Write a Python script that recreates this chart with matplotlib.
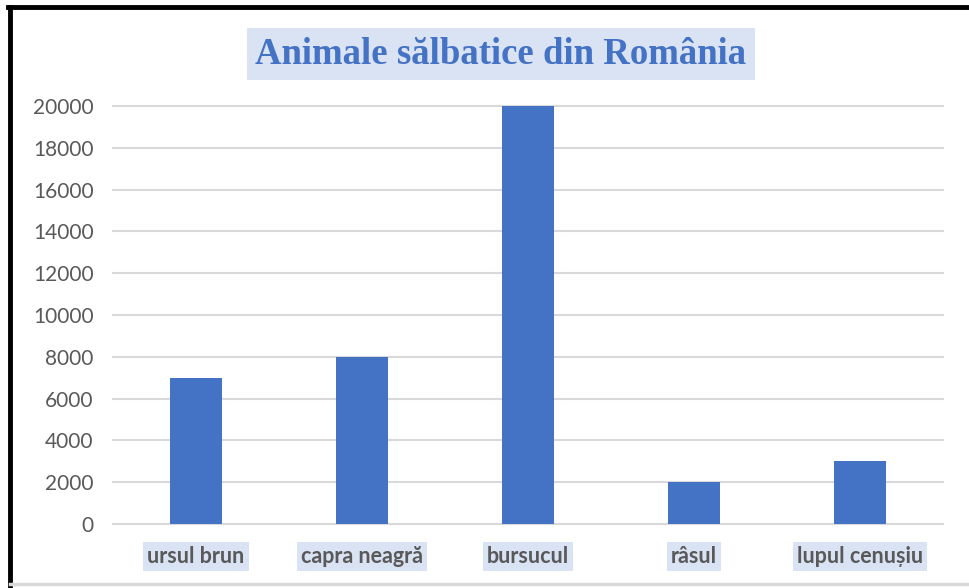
import matplotlib
matplotlib.use('Agg')
import matplotlib.pyplot as plt
from matplotlib.lines import Line2D

# data
animale = ['ursul brun', 'capra neagră', 'bursucul', 'râsul', 'lupul cenușiu']
numar = [7000, 8000, 20000, 2000, 3000]
y_ticks = [0, 2000, 4000, 6000, 8000, 10000, 12000, 14000, 16000, 18000, 20000]

blue = '#4472C4'
grid_grey = '#D9D9D9'
text_grey = '#595959'
label_bg = '#DAE3F3'

fig = plt.figure(figsize=(9.69, 5.88), dpi=100)
ax = fig.add_axes([113 / 969, 1 - 524 / 588, 830 / 969, 418 / 588])

x = range(len(animale))
ax.bar(x, numar, width=0.31, color=blue, zorder=3)

ax.set_xlim(-0.5, len(animale) - 0.5)
ax.set_ylim(0, 20000)
ax.set_yticks(y_ticks)
ax.set_yticklabels([str(v) for v in y_ticks], fontsize=15, color=text_grey, family='Lato')
ax.tick_params(axis='y', length=0, pad=14)
ax.tick_params(axis='x', length=0, pad=16)
ax.set_xticks(list(x))
ax.set_xticklabels(animale, fontsize=15.5, fontweight='bold', color=text_grey, family='Lato')
for lbl in ax.get_xticklabels():
    lbl.set_bbox(dict(facecolor=label_bg, edgecolor='none', pad=3))

for v in y_ticks:
    ax.axhline(v, color=grid_grey, linewidth=1.5, zorder=1, clip_on=False)

for s in ax.spines.values():
    s.set_visible(False)

fig.text(0.517, 1 - 54 / 588, 'Animale sălbatice din România', ha='center', va='center',
         fontsize=26.5, fontweight='bold', color=blue, family='Liberation Serif',
         bbox=dict(facecolor=label_bg, edgecolor='none', pad=6))

# outer frame: black top and left, light grey bottom
fig.add_artist(Line2D([8 / 969, 1], [1 - 7 / 588, 1 - 7 / 588], color='black', linewidth=3.5, transform=fig.transFigure))
fig.add_artist(Line2D([10 / 969, 10 / 969], [0, 1 - 7 / 588], color='black', linewidth=3.5, transform=fig.transFigure))
fig.add_artist(Line2D([10 / 969, 1], [1 - 584 / 588, 1 - 584 / 588], color=grid_grey, linewidth=2.5, transform=fig.transFigure))

plt.savefig('out.png', dpi=100)
